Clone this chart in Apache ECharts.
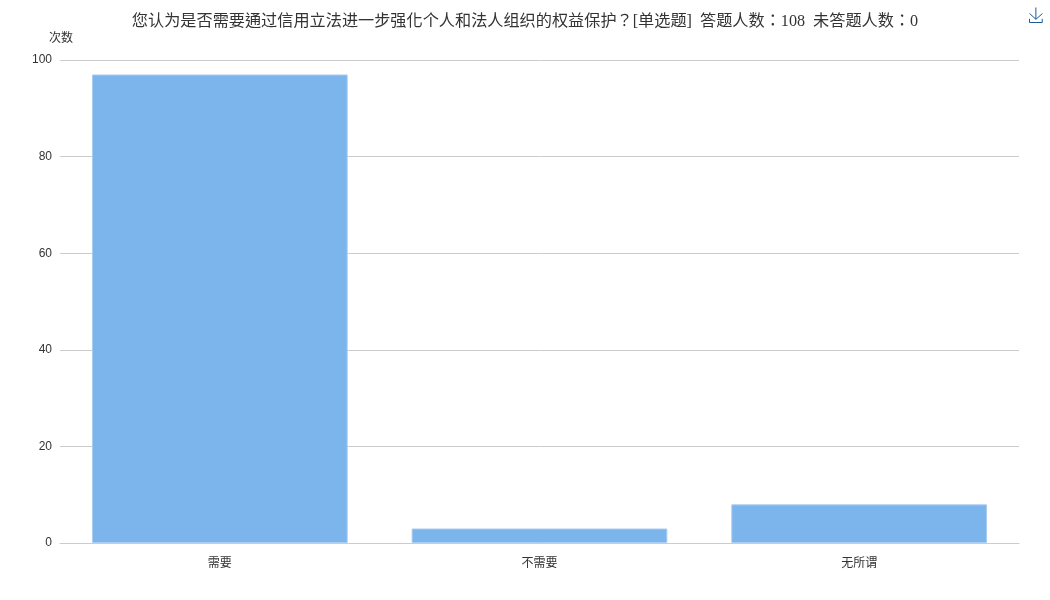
<!DOCTYPE html>
<html><head><meta charset="utf-8">
<style>html,body{margin:0;padding:0;background:#fff}#c{width:1050px;height:600px}</style>
<script src="https://cdn.jsdelivr.net/npm/echarts@6/dist/echarts.min.js"></script>
</head><body><div id="c"></div>
<script>
const categories = ['需要', '不需要', '无所谓'];
const counts = [97, 3, 8];
const titleText = '您认为是否需要通过信用立法进一步强化个人和法人组织的权益保护？[单选题]  答题人数：108  未答题人数：0';
const yAxisName = '次数';
const chart = echarts.init(document.getElementById('c'), null, {renderer: 'canvas'});
chart.setOption({
  animation: false,
  backgroundColor: '#fff',
  title: {
    text: titleText, left: 'center', top: 9,
    textStyle: {fontSize: 16.16, fontWeight: 'normal', color: '#333', fontFamily: '"Liberation Serif","Noto Sans CJK TC",serif'}
  },
  toolbox: {
    left: 1012, top: -10, itemSize: 15,
    iconStyle: {borderColor: '#1a5a96', color: 'none', borderWidth: 1},
    feature: {saveAsImage: {title: ''}}
  },
  grid: {left: 60, right: 31, top: 60, bottom: 57},
  xAxis: {
    type: 'category', data: categories,
    axisTick: {show: false},
    axisLine: {lineStyle: {color: '#ccc', width: 1}},
    axisLabel: {color: '#333', fontSize: 12, margin: 13, fontFamily: '"Noto Sans CJK SC",sans-serif'}
  },
  yAxis: {
    type: 'value', min: 0, max: 100, interval: 20,
    name: yAxisName, nameGap: 17,
    nameTextStyle: {color: '#333', fontSize: 12, align: 'right', padding: [0, -13, 0, 0], fontFamily: '"Noto Sans CJK SC",sans-serif'},
    axisLine: {show: false}, axisTick: {show: false},
    axisLabel: {color: '#333', fontSize: 12, margin: 8, fontFamily: '"Liberation Sans",sans-serif'},
    splitLine: {lineStyle: {color: '#ccc', width: 1}}
  },
  series: [{
    type: 'bar', data: counts, barCategoryGap: '20%',
    itemStyle: {color: '#7cb4ec', borderColor: '#a9cdf1', borderWidth: 1}
  }]
});
</script></body></html>
